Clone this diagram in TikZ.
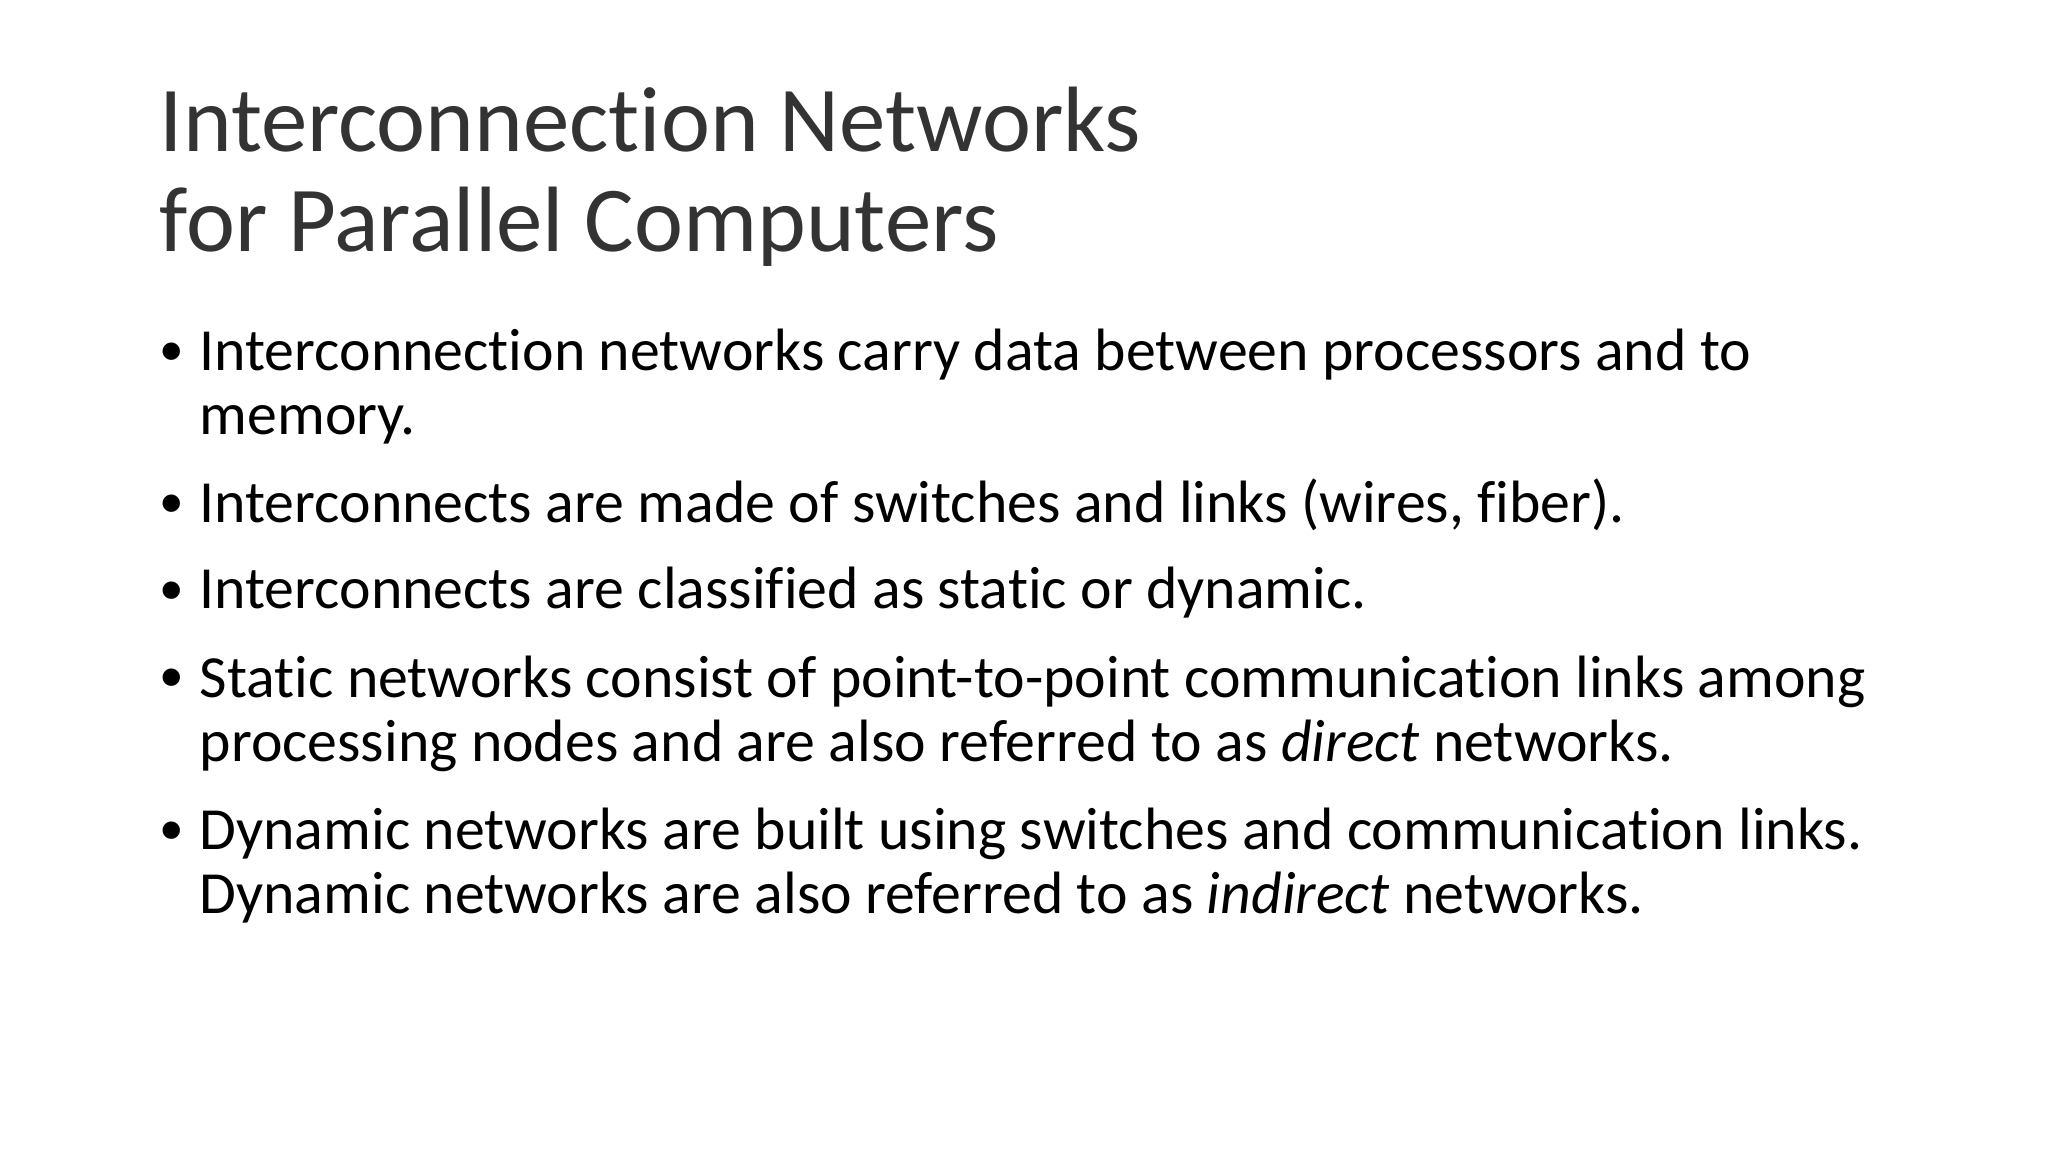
\documentclass[tikz,border=0pt]{standalone}
\usepackage{fontspec}
\setmainfont[Ligatures=NoCommon]{Carlito}
\begin{document}
\begin{tikzpicture}[x=0.01cm,y=-0.01cm,
  ttl/.style={anchor=base west,inner sep=0pt,font=\fontsize{26.4pt}{32pt}\selectfont,text=black!80},
  bod/.style={anchor=base west,inner sep=0pt,font=\fontsize{17pt}{21pt}\selectfont},
  bul/.style={anchor=base west,inner sep=0pt,font=\fontsize{14pt}{17pt}\selectfont}]
\useasboundingbox[fill=white] (0,0) rectangle (2048,1152);
\node[ttl] (t1) at (159,152) {Interconnection Networks};
\node[ttl] (t2) at (159,252) {for Parallel Computers};
\foreach \y/\n in {366/b1,518/b2,604/b3,692/b4,844/b5}
  \node[bul] (\n) at (159,\y) {•};
\node[bod] (l1) at (199,371) {Interconnection networks carry data between processors and to};
\node[bod] (l2) at (199,435) {memory.};
\node[bod] (l3) at (199,523) {Interconnects are made of switches and links (wires, fiber).};
\node[bod] (l4) at (199,609) {Interconnects are classified as static or dynamic.};
\node[bod] (l5) at (199,697) {Static networks consist of point-to-point communication links among};
\node[bod] (l6) at (199,761) {processing nodes and are also referred to as \textit{direct} networks.};
\node[bod] (l7) at (199,849) {Dynamic networks are built using switches and communication links.};
\node[bod] (l8) at (199,913) {Dynamic networks are also referred to as \textit{indirect} networks.};
\end{tikzpicture}
\end{document}
